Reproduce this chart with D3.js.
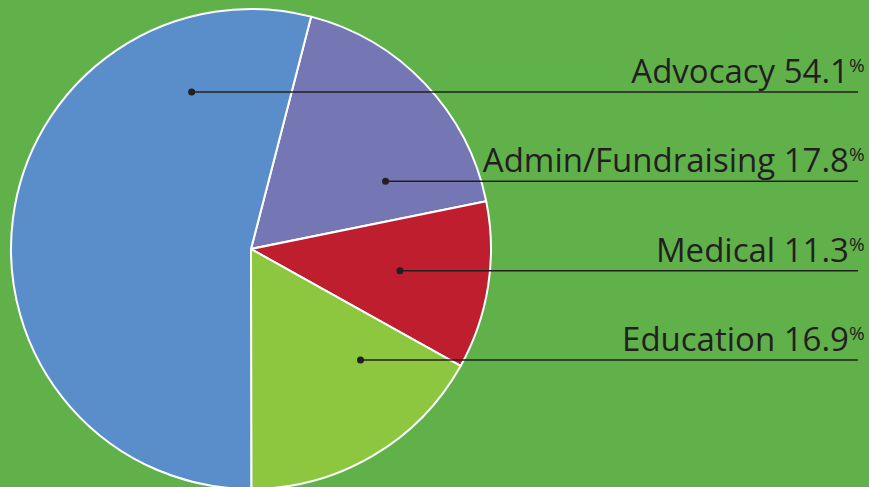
<!DOCTYPE html>
<html>
<head>
<meta charset="utf-8">
<script src="https://cdn.jsdelivr.net/npm/d3@7"></script>
<style>
  html, body { margin: 0; padding: 0; background: #61b14b; overflow: hidden; }
  svg { display: block; }
</style>
</head>
<body>
<svg id="chart"></svg>
<script>
// slice order, clockwise from the top
var categories = ["Admin/Fundraising", "Medical", "Education", "Advocacy"];
var values = [17.8, 11.3, 16.9, 54.1];
var colors = ["#7577b5", "#be1e2e", "#8dc63f", "#5a8ecb"];
// label order, top to bottom
var labelOrder = ["Advocacy", "Admin/Fundraising", "Medical", "Education"];

var width = 869, height = 487;
var cx = 251, cy = 249, radius = 240;
var startAngle = 14.5 * Math.PI / 180;

var svg = d3.select("#chart")
  .attr("width", width)
  .attr("height", height);

var data = categories.map(function (c, i) { return { name: c, value: values[i], color: colors[i] }; });

var pie = d3.pie()
  .sort(null)
  .value(function (d) { return d.value; })
  .startAngle(startAngle)
  .endAngle(startAngle + 2 * Math.PI);

var arc = d3.arc().innerRadius(0).outerRadius(radius);
var arcs = pie(data);

var g = svg.append("g").attr("transform", "translate(" + cx + "," + cy + ")");

g.selectAll("path")
  .data(arcs)
  .enter()
  .append("path")
  .attr("d", arc)
  .attr("fill", function (d) { return d.data.color; })
  .attr("stroke", "#fff")
  .attr("stroke-width", 2)
  .attr("stroke-linejoin", "round");

// label rows
var y = d3.scalePoint().domain(labelOrder).range([92, 360]);
var lineEnd = 858;
var textEnd = 849;

// x span of a slice along a horizontal line at offset dy from the centre
function chordSpan(a, dy) {
  var xs = [];
  var half = Math.sqrt(Math.max(0, radius * radius - dy * dy));
  [-half, half].forEach(function (x) {
    var ang = Math.atan2(x, -dy);
    if (inArc(a, ang)) xs.push(x);
  });
  [a.startAngle, a.endAngle].forEach(function (ang) {
    var sx = Math.sin(ang), sy = -Math.cos(ang);
    if (Math.abs(sy) > 1e-6) {
      var t = dy / sy;
      if (t > 0 && t <= radius) xs.push(t * sx);
    }
  });
  return d3.extent(xs);
}
function inArc(a, ang) {
  var tau = 2 * Math.PI;
  var v = ((ang - a.startAngle) % tau + tau) % tau;
  return v <= a.endAngle - a.startAngle;
}

var labels = svg.append("g")
  .attr("font-family", "'Open Sans', sans-serif")
  .attr("fill", "#231f20");

arcs.forEach(function (a) {
  var ly = y(a.data.name);
  var span = chordSpan(a, ly - cy);
  var dx = cx + span[0] + (span[1] - span[0]) * 0.55;

  labels.append("line")
    .attr("x1", dx).attr("x2", lineEnd)
    .attr("y1", ly).attr("y2", ly)
    .attr("stroke", "#231f20")
    .attr("stroke-width", 1.5);

  labels.append("circle")
    .attr("cx", dx).attr("cy", ly)
    .attr("r", 3.5);

  labels.append("text")
    .attr("x", textEnd)
    .attr("y", ly - 9)
    .attr("text-anchor", "end")
    .attr("font-size", 33)
    .text(a.data.name + " " + a.data.value.toFixed(1));

  labels.append("text")
    .attr("x", textEnd)
    .attr("y", ly - 20)
    .attr("font-size", 19)
    .text("%");
});
</script>
</body>
</html>
